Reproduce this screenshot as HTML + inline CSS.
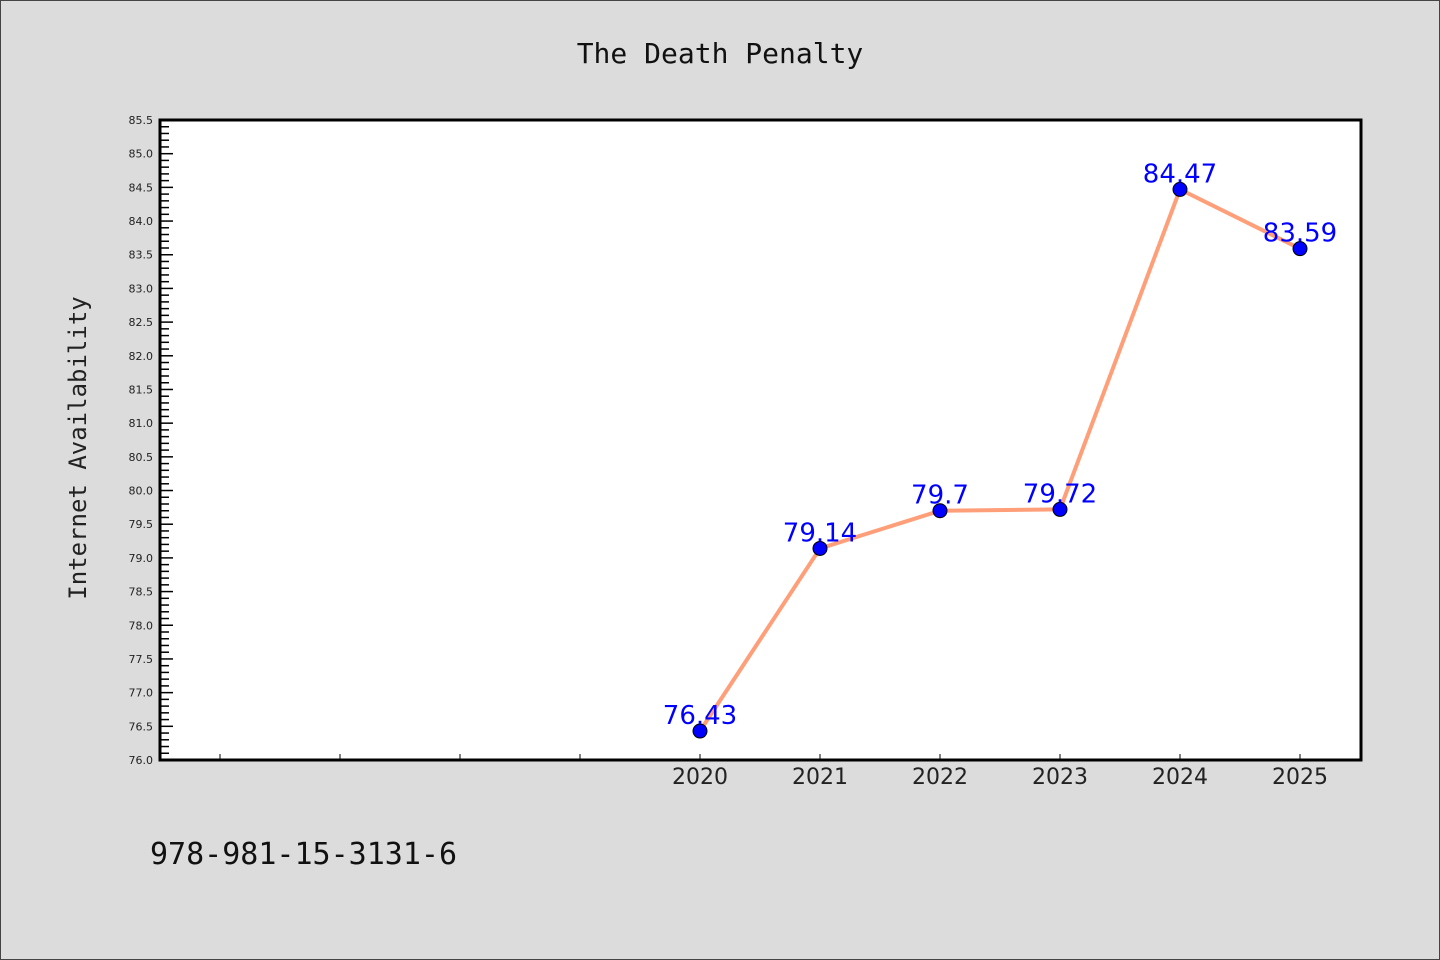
<!DOCTYPE html>
<html><head><meta charset="utf-8"><style>
html,body{margin:0;padding:0;background:#dcdcdc;}
svg{display:block;}
</style></head><body>
<svg width="1440" height="960" xmlns="http://www.w3.org/2000/svg">
<rect x="0.5" y="0.5" width="1439" height="959" fill="#dcdcdc" stroke="#444"/>
<text x="720" y="63" text-anchor="middle" font-family="DejaVu Sans Mono, Liberation Mono, monospace" font-size="28" fill="#111">The Death Penalty</text>
<rect x="160" y="120" width="1201" height="640" fill="#fff"/>
<g id="axes"></g>
<g id="series"></g>
<rect x="160" y="120" width="1201" height="640" fill="none" stroke="#000" stroke-width="3"/>
<text x="86" y="448" text-anchor="middle" transform="rotate(-90 86 448)" font-family="DejaVu Sans Mono, Liberation Mono, monospace" font-size="24" fill="#222">Internet Availability</text>
<text x="150" y="864" font-family="DejaVu Sans Mono, Liberation Mono, monospace" font-size="30" fill="#111">978-981-15-3131-6</text>
</svg>
<script>
const categories = ["", "", "", "", "2020", "2021", "2022", "2023", "2024", "2025"];
const values = [null, null, null, null, 76.43, 79.14, 79.7, 79.72, 84.47, 83.59];
const valueLabels = ["", "", "", "", "76.43", "79.14", "79.7", "79.72", "84.47", "83.59"];
const yTicks = [76.0, 76.5, 77.0, 77.5, 78.0, 78.5, 79.0, 79.5, 80.0, 80.5, 81.0, 81.5, 82.0, 82.5, 83.0, 83.5, 84.0, 84.5, 85.0, 85.5];
const yMin = 76.0, yMax = 85.5;
const NS = "http://www.w3.org/2000/svg";
function yPos(v){ return 760 - (v - yMin) / (yMax - yMin) * 640; }
function xPos(i){ return 220 + i * 120; }
const axes = document.getElementById('axes');
const series = document.getElementById('series');
function mk(tag, attrs, parent){ const e = document.createElementNS(NS, tag); for (const k in attrs) e.setAttribute(k, attrs[k]); parent.appendChild(e); return e; }
// y ticks
for (let v = yMin; v <= yMax + 1e-9; v += 0.1) {
  const major = Math.abs(v*2 - Math.round(v*2)) < 1e-6;
  const t = mk('line', {x1:160, x2: major ? 173 : 169, y1: yPos(v), y2: yPos(v), stroke:'#000', 'stroke-width':1.5}, axes);
  
  
}
yTicks.forEach(v => {
  const t = mk('text', {x:153, y: yPos(v)+4, 'text-anchor':'end', 'font-family':'DejaVu Sans, Liberation Sans, sans-serif', 'font-size':11, fill:'#222'}, axes);
  t.textContent = v.toFixed(1);
  
  
});
categories.forEach((c, i) => {
  const t = mk('line', {x1: xPos(i), x2: xPos(i), y1: 760, y2: 754, stroke:'#000', 'stroke-width':1}, axes);
  
  
  if (c) {
    const l = mk('text', {x: xPos(i), y: 784, 'text-anchor':'middle', 'font-family':'DejaVu Sans, Liberation Sans, sans-serif', 'font-size':22, fill:'#222'}, axes);
    l.textContent = c;
    
    
  }
});
const pts = [];
values.forEach((v, i) => { if (v !== null) pts.push([xPos(i), yPos(v), i]); });
const line = mk('polyline', {points: pts.map(p => p[0]+','+p[1]).join(' '), fill:'none', stroke:'#ff9f7a', 'stroke-width':4}, series);


pts.forEach(p => {
  const c = mk('circle', {cx: p[0], cy: p[1], r: 7, fill:'#0000ff', stroke:'#000', 'stroke-width':1}, series);
  
  
});
pts.forEach(p => {
  const t = mk('text', {x: p[0], y: p[1]-7, 'text-anchor':'middle', 'font-family':'DejaVu Sans, Liberation Sans, sans-serif', 'font-size':26, fill:'#0000ff'}, series);
  t.textContent = valueLabels[p[2]];
  
  
});
</script>
</body></html>
